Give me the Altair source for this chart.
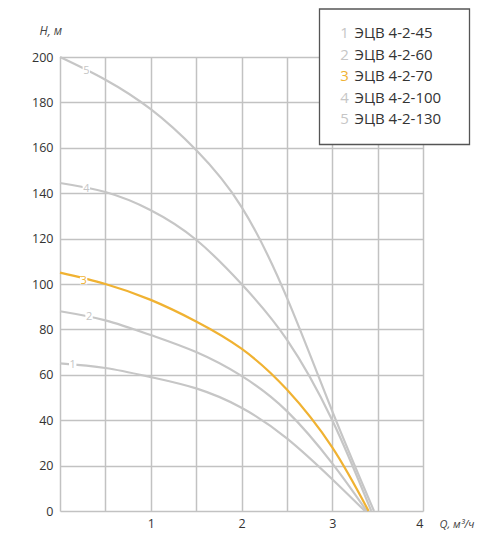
import altair as alt
import pandas as pd

# pump curves H(Q)
nums = ["1", "2", "3", "4", "5"]
models = ["ЭЦВ 4-2-45", "ЭЦВ 4-2-60", "ЭЦВ 4-2-70", "ЭЦВ 4-2-100", "ЭЦВ 4-2-130"]
colors = ["#c6c6c6", "#c6c6c6", "#f0b232", "#c6c6c6", "#c6c6c6"]

q1 = [0, 0.5, 1, 1.5, 2, 2.5, 3, 3.36]
h1 = [65, 63, 59, 54, 45.5, 32, 14, 0]
q2 = [0, 0.5, 1, 1.5, 2, 2.5, 3, 3.38]
h2 = [88, 84, 77.5, 70, 59.5, 44, 21, 0]
q3 = [0, 0.5, 1, 1.5, 2, 2.5, 3, 3.40]
h3 = [105, 100, 93, 83.5, 71.5, 53.5, 28, 0]
q4 = [0, 0.5, 1, 1.5, 2, 2.5, 3, 3.43]
h4 = [144.5, 140.5, 132.5, 119.5, 100, 75.5, 40, 0]
q5 = [0, 0.5, 1, 1.5, 2, 2.5, 3, 3.46]
h5 = [200, 190, 177, 159, 134, 94, 44, 0]

# where the small curve numbers sit
label_q = [0.14, 0.32, 0.26, 0.29, 0.29]
label_h = [64.5, 85.5, 101.5, 142, 194]

x_ticks = [0, 0.5, 1, 1.5, 2, 2.5, 3, 3.5, 4]
y_ticks = [0, 20, 40, 60, 80, 100, 120, 140, 160, 180, 200]

FONT = "Open Sans"
W, H = 363, 454

rows = []
for n, qs, hs in zip(models, [q1, q2, q3, q4, q5], [h1, h2, h3, h4, h5]):
    for q, h in zip(qs, hs):
        rows.append({"model": n, "Q": q, "H": h})
curves = pd.DataFrame(rows)

labels = pd.DataFrame({"model": models, "num": nums, "Q": label_q, "H": label_h})


# pixel -> data helpers for the legend box (plot origin at top-left)
def px_q(px):
    return px / W * 4


def px_h(py):
    return 200 - py / H * 200


legend = pd.DataFrame({
    "model": models,
    "num": nums,
    "Q": [px_q(284.5)] * 5,
    "Q2": [px_q(294.5)] * 5,
    "H": [px_h(-23.7 + 21.5 * i) for i in range(5)],
})
box = pd.DataFrame({"Q": [px_q(259.5)], "Q2": [px_q(409.5)],
                    "H": [px_h(-48)], "H2": [px_h(87.5)]})

color = alt.Color("model:N", scale=alt.Scale(domain=models, range=colors), legend=None)
xs = alt.Scale(domain=[0, 4], nice=False)
ys = alt.Scale(domain=[0, 200], nice=False)

base_x = alt.X("Q:Q", scale=xs, axis=alt.Axis(
    values=x_ticks, grid=True, ticks=False, domain=False, labelPadding=6,
    labelExpr="datum.value % 1 == 0 && datum.value > 0 ? format(datum.value, 'd') : ''",
    title="Q, м³/ч", titleX=379, titleY=13, titleAlign="left", titleFontSize=11,
    titleBaseline="middle", titleFontStyle="italic", titleFontWeight="normal"))
base_y = alt.Y("H:Q", scale=ys, axis=alt.Axis(
    values=y_ticks, grid=True, ticks=False, domain=False, labelPadding=7,
    title="H, м", titleAngle=0, titleX=-21, titleY=-27, titleAlign="left",
    titleBaseline="middle", titleFontStyle="italic", titleFontWeight="normal"))

lines = alt.Chart(curves).mark_line(strokeWidth=2.2, interpolate="natural").encode(
    x=base_x, y=base_y, color=color, detail="model:N", order=alt.Order("Q:Q"))

label_bg = alt.Chart(labels).mark_point(shape="square", filled=True, fill="white",
                                       opacity=1, size=55, strokeWidth=0).encode(
    x="Q:Q", y="H:Q")
label_txt = alt.Chart(labels).mark_text(font=FONT, fontSize=11, baseline="middle").encode(
    x="Q:Q", y="H:Q", text="num:N", color=color)

legend_box = alt.Chart(box).mark_rect(fill="white", stroke="#555555", strokeWidth=1.3).encode(
    x="Q:Q", x2="Q2:Q", y="H:Q", y2="H2:Q")
legend_num = alt.Chart(legend).mark_text(font=FONT, fontSize=15, align="center",
                                         baseline="middle").encode(
    x="Q:Q", y="H:Q", text="num:N", color=color)
legend_lbl = alt.Chart(legend).mark_text(font=FONT, fontSize=15, align="left",
                                         baseline="middle", color="#333333").encode(
    x="Q2:Q", y="H:Q", text="model:N")

chart = alt.layer(lines, label_bg, label_txt, legend_box, legend_num, legend_lbl).properties(
    width=W, height=H,
    autosize=alt.AutoSizeParams(type="none"),
    padding={"left": 52, "top": 49, "right": 69, "bottom": 19},
).configure_view(stroke=None).configure_axis(
    gridColor="#c2c2c2", gridWidth=1.5, gridOpacity=1,
    labelFont=FONT, labelFontSize=12.5, labelColor="#333333",
    titleFont=FONT, titleFontSize=12, titleColor="#444444",
)

chart.save("out.html", embed_options={"renderer": "svg", "actions": False})
